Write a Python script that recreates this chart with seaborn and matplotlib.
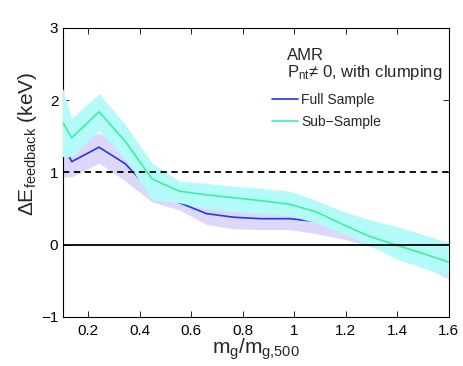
import matplotlib
matplotlib.use('Agg')
import matplotlib.pyplot as plt
import seaborn as sns
import pandas as pd

# mass bins (m_g / m_g,500)
x = [0.10, 0.136, 0.242, 0.344, 0.448, 0.555, 0.66, 0.766, 0.87, 0.984,
     1.088, 1.19, 1.29, 1.40, 1.50, 1.60]

# Full sample: mean and band
full_mean = [1.40, 1.15, 1.35, 1.12, 0.73, 0.58, 0.43, 0.38, 0.36, 0.36,
             0.32, 0.25, 0.15, 0.02, -0.13, -0.29]
full_hi = [1.60, 1.35, 1.55, 1.32, 0.93, 0.76, 0.60, 0.55, 0.52, 0.52,
           0.48, 0.42, 0.32, 0.18, 0.03, -0.12]
full_lo = [0.94, 0.94, 1.13, 0.88, 0.59, 0.48, 0.28, 0.22, 0.21, 0.21,
           0.15, 0.08, -0.02, -0.15, -0.30, -0.47]

# Sub-sample: mean and band
sub_mean = [1.70, 1.48, 1.84, 1.43, 0.91, 0.74, 0.69, 0.65, 0.61, 0.56,
            0.45, 0.28, 0.12, -0.01, -0.12, -0.24]
sub_hi = [2.17, 1.75, 2.09, 1.66, 1.13, 0.88, 0.85, 0.81, 0.78, 0.74,
          0.61, 0.46, 0.35, 0.25, 0.14, 0.03]
sub_lo = [1.22, 1.22, 1.58, 1.18, 0.62, 0.58, 0.50, 0.46, 0.43, 0.40,
          0.30, 0.15, 0.00, -0.20, -0.32, -0.44]

full = pd.DataFrame({'x': x, 'y': full_mean})
sub = pd.DataFrame({'x': x, 'y': sub_mean})

sns.set_style('ticks')
plt.rcParams['font.family'] = ['Liberation Sans', 'DejaVu Sans']
plt.rcParams['mathtext.fontset'] = 'custom'
plt.rcParams['mathtext.rm'] = 'Liberation Sans'
plt.rcParams['mathtext.it'] = 'Liberation Sans'
plt.rcParams['mathtext.default'] = 'regular'

fig = plt.figure(figsize=(4.63, 3.66), dpi=100)
ax = fig.add_axes([0.135, 0.134, 0.8337, 0.7896])

ax.fill_between(x, full_lo, full_hi, color='#ddd7fb', linewidth=0, zorder=1)
sns.lineplot(x='x', y='y', data=full, color='#2038f0', lw=1.2, ax=ax,
             label='Full Sample', zorder=2)
ax.fill_between(x, sub_lo, sub_hi, color='#b4faf8', linewidth=0, zorder=3)
sns.lineplot(x='x', y='y', data=sub, color='#3ef09a', lw=1.2, ax=ax,
             label='Sub\u2212Sample', zorder=4)

ax.axhline(1, color='black', ls=(0, (3.5, 2.5)), lw=1.3, zorder=5)
ax.axhline(0, color='black', lw=1.3, zorder=5)

ax.set_xlim(0.1, 1.6)
ax.set_ylim(-1, 3)
ax.set_xticks([0.2, 0.4, 0.6, 0.8, 1.0, 1.2, 1.4, 1.6])
ax.set_xticklabels(['0.2', '0.4', '0.6', '0.8', '1', '1.2', '1.4', '1.6'])
ax.set_yticks([-1, 0, 1, 2, 3])
ax.set_yticklabels(['\u22121', '0', '1', '2', '3'])
ax.tick_params(direction='in', length=4, width=0.6, top=True, right=True,
               labelsize=11, colors='black')
ax.tick_params(axis='x', pad=5)
ax.tick_params(axis='y', pad=3)
for s in ax.spines.values():
    s.set_linewidth(0.8)
    s.set_color('black')

ax.set_xlabel('$m_g/m_{g{,}500}$', fontsize=15, labelpad=-1)
ax.set_ylabel('$\\Delta E_{feedback}$ (keV)', fontsize=15)
ax.yaxis.set_label_coords(-0.062, 0.60)

ax.text(0.582, 0.888, 'AMR', transform=ax.transAxes, fontsize=12)
ax.text(0.582, 0.832, '$P_{nt}$\u2260 0, with clumping',
        transform=ax.transAxes, fontsize=12)
ax.legend(loc='upper left', bbox_to_anchor=(0.543, 0.775), frameon=False,
          fontsize=10, handlelength=1.9, handletextpad=0.2,
          labelspacing=0.55, borderpad=0, borderaxespad=0)

fig.savefig('out.png', dpi=100)
